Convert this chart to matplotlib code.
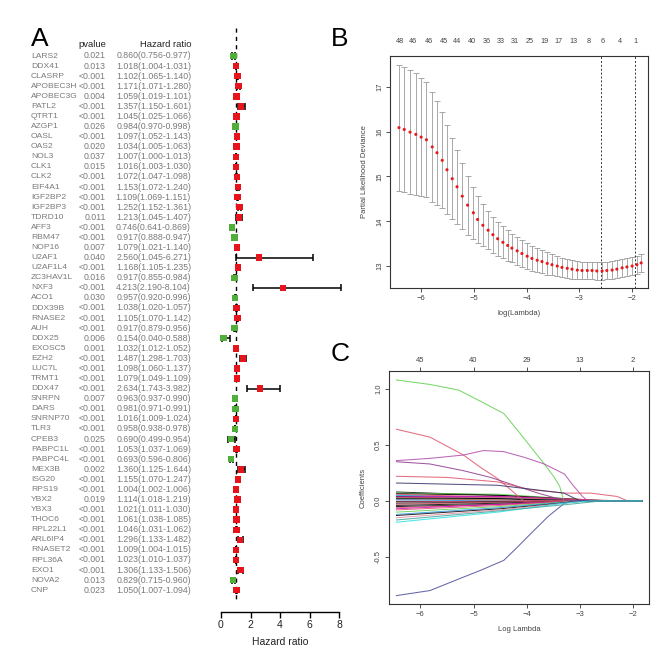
import numpy as np
import matplotlib
matplotlib.use("Agg")
import matplotlib.pyplot as plt
import matplotlib.transforms as mtransforms

plt.rcParams['font.family'] = ['Liberation Sans', 'DejaVu Sans']

# ---- panel A: univariate cox forest plot ----
genes = ['LARS2', 'DDX41', 'CLASRP', 'APOBEC3H', 'APOBEC3G', 'PATL2', 'QTRT1', 'AZGP1',
         'OASL', 'OAS2', 'NOL3', 'CLK1', 'CLK2', 'EIF4A1', 'IGF2BP2', 'IGF2BP3', 'TDRD10',
         'AFF3', 'RBM47', 'NOP16', 'U2AF1', 'U2AF1L4', 'ZC3HAV1L', 'NXF3', 'ACO1', 'DDX39B',
         'RNASE2', 'AUH', 'DDX25', 'EXOSC5', 'EZH2', 'LUC7L', 'TRMT1', 'DDX47', 'SNRPN',
         'DARS', 'SNRNP70', 'TLR3', 'CPEB3', 'PABPC1L', 'PABPC4L', 'MEX3B', 'ISG20', 'RPS19',
         'YBX2', 'YBX3', 'THOC6', 'RPL22L1', 'ARL6IP4', 'RNASET2', 'RPL36A', 'EXO1', 'NOVA2',
         'CNP']
pvals = ['0.021', '0.013', '<0.001', '<0.001', '0.004', '<0.001', '<0.001', '0.026',
         '<0.001', '0.020', '0.037', '0.015', '<0.001', '<0.001', '<0.001', '<0.001', '0.011',
         '<0.001', '<0.001', '0.007', '0.040', '<0.001', '0.016', '<0.001', '0.030', '<0.001',
         '<0.001', '<0.001', '0.006', '0.001', '<0.001', '<0.001', '<0.001', '<0.001', '0.007',
         '<0.001', '<0.001', '<0.001', '0.025', '<0.001', '<0.001', '0.002', '<0.001', '<0.001',
         '0.019', '<0.001', '<0.001', '<0.001', '<0.001', '<0.001', '<0.001', '<0.001', '0.013',
         '0.023']
hr = [0.860, 1.018, 1.102, 1.171, 1.059, 1.357, 1.045, 0.984, 1.097, 1.034, 1.007, 1.016,
      1.072, 1.153, 1.109, 1.252, 1.213, 0.746, 0.917, 1.079, 2.560, 1.168, 0.917, 4.213,
      0.957, 1.038, 1.105, 0.917, 0.154, 1.032, 1.487, 1.098, 1.079, 2.634, 0.963, 0.981,
      1.016, 0.958, 0.690, 1.053, 0.693, 1.360, 1.155, 1.004, 1.114, 1.021, 1.061, 1.046,
      1.296, 1.009, 1.023, 1.306, 0.829, 1.050]
hr_low = [0.756, 1.004, 1.065, 1.071, 1.019, 1.150, 1.025, 0.970, 1.052, 1.005, 1.000, 1.003,
          1.047, 1.072, 1.069, 1.152, 1.045, 0.641, 0.888, 1.021, 1.045, 1.105, 0.855, 2.190,
          0.920, 1.020, 1.070, 0.879, 0.040, 1.012, 1.298, 1.060, 1.049, 1.743, 0.937, 0.971,
          1.009, 0.938, 0.499, 1.037, 0.596, 1.125, 1.070, 1.002, 1.018, 1.011, 1.038, 1.031,
          1.133, 1.004, 1.010, 1.133, 0.715, 1.007]
hr_high = [0.977, 1.031, 1.140, 1.280, 1.101, 1.601, 1.066, 0.998, 1.143, 1.063, 1.013, 1.030,
           1.098, 1.240, 1.151, 1.361, 1.407, 0.869, 0.947, 1.140, 6.271, 1.235, 0.984, 8.104,
           0.996, 1.057, 1.142, 0.956, 0.588, 1.052, 1.703, 1.137, 1.109, 3.982, 0.990, 0.991,
           1.024, 0.978, 0.954, 1.069, 0.806, 1.644, 1.247, 1.006, 1.219, 1.030, 1.085, 1.062,
           1.482, 1.015, 1.037, 1.506, 0.960, 1.094]

# ---- panel B: cross-validation curve ----
cv_lambda = [-6.42, -6.32, -6.21, -6.10, -6.00, -5.90, -5.79, -5.70, -5.60, -5.51, -5.41, -5.32,
             -5.22, -5.12, -5.01, -4.93, -4.83, -4.73, -4.64, -4.55, -4.45, -4.36, -4.28, -4.18,
             -4.09, -3.99, -3.90, -3.80, -3.71, -3.61, -3.52, -3.42, -3.33, -3.23, -3.14, -3.04,
             -2.95, -2.85, -2.76, -2.67, -2.57, -2.48, -2.38, -2.29, -2.19, -2.10, -2.00, -1.91,
             -1.83]
cv_mean = [16.09, 16.05, 15.99, 15.94, 15.88, 15.82, 15.66, 15.53, 15.36, 15.15, 14.95, 14.77,
           14.56, 14.36, 14.19, 14.04, 13.91, 13.80, 13.70, 13.61, 13.53, 13.46, 13.40, 13.34,
           13.28, 13.22, 13.17, 13.13, 13.10, 13.06, 13.03, 13.00, 12.97, 12.95, 12.93, 12.91,
           12.90, 12.90, 12.90, 12.89, 12.89, 12.90, 12.91, 12.93, 12.96, 12.98, 13.00, 13.03,
           13.07]
cv_se = [1.41, 1.40, 1.38, 1.36, 1.32, 1.28, 1.22, 1.16, 1.07, 0.99, 0.90, 0.82,
         0.74, 0.66, 0.58, 0.52, 0.47, 0.43, 0.40, 0.38, 0.36, 0.34, 0.32, 0.31,
         0.30, 0.29, 0.28, 0.27, 0.26, 0.25, 0.24, 0.23, 0.22, 0.21, 0.21, 0.20,
         0.20, 0.20, 0.20, 0.20, 0.20, 0.20, 0.20, 0.20, 0.20, 0.20, 0.20, 0.20,
         0.20]
cv_top_pos = [-6.40, -6.15, -5.85, -5.57, -5.32, -5.03, -4.76, -4.50, -4.23, -3.95, -3.67,
              -3.40, -3.12, -2.82, -2.55, -2.24, -1.94]
cv_top_labels = ['48', '46', '46', '45', '44', '40', '36', '33', '31', '25', '19', '17', '13',
                 '8', '6', '4', '1']
lambda_min = -2.60
lambda_1se = -1.95

# ---- panel C: coefficient paths ----
r_black, r_red, r_green, r_blue = '#000000', '#DF536B', '#61D04F', '#2297E6'
r_cyan, r_magenta, r_navy = '#28E2E5', '#CD0BBC', '#4B4B9B'
path_end = -1.83
big_paths = [
    ([-6.45, -5.82, -5.28, -4.87, -4.43, -4.17, -3.92, -3.67, -3.48, -3.38, -3.30],
     [1.08, 1.04, 0.99, 0.89, 0.78, 0.63, 0.48, 0.33, 0.21, 0.13, 0.0], r_green),
    ([-6.45, -5.82, -5.19, -4.87, -4.55, -4.30, -4.11, -4.05],
     [0.64, 0.57, 0.41, 0.30, 0.20, 0.10, 0.02, 0.0], r_red),
    ([-6.45, -5.82, -5.19, -4.81, -4.43, -4.05, -3.67, -3.29, -3.13, -2.95, -2.85],
     [0.36, 0.38, 0.41, 0.45, 0.44, 0.39, 0.33, 0.24, 0.14, 0.04, 0.0], '#B04CA8'),
    ([-6.45, -5.82, -5.19, -4.68, -4.17, -3.79, -3.41, -3.20],
     [0.35, 0.33, 0.27, 0.21, 0.13, 0.07, 0.02, 0.0], '#8E3A8E'),
    ([-6.45, -5.50, -4.55, -3.92, -3.29, -2.80, -2.30, -2.10],
     [0.22, 0.21, 0.17, 0.10, 0.07, 0.07, 0.04, 0.0], r_red),
    ([-6.45, -4.55, -3.30, -3.00],
     [0.16, 0.14, 0.07, 0.0], '#333366'),
    ([-6.45, -5.82, -5.19, -4.87, -4.43, -4.17, -3.92, -3.60, -3.29, -3.15],
     [-0.845, -0.80, -0.68, -0.62, -0.53, -0.41, -0.29, -0.14, -0.02, 0.0], r_navy),
    ([-6.45, -4.55, -3.29, -2.80],
     [-0.19, -0.10, -0.02, 0.0], r_cyan),
    ([-6.45, -4.55, -3.20, -2.60],
     [-0.17, -0.09, -0.03, 0.0], '#3FA89A'),
]
# small paths: value at start, value at log lambda -4.5, where it reaches zero
small_start = [0.08, 0.07, 0.065, 0.06, 0.05, 0.05, 0.045, 0.04, 0.035, 0.03, 0.02, 0.02,
               0.01, 0.01, 0.0, -0.01, -0.02, -0.03, -0.04, -0.05, -0.06, -0.07, -0.08,
               -0.10, -0.12, -0.13, -0.15]
small_mid = [0.05, 0.06, 0.05, 0.03, 0.04, 0.02, 0.03, 0.04, 0.02, 0.03, 0.01, 0.02,
             0.01, 0.0, 0.0, 0.0, -0.01, -0.01, -0.02, -0.03, -0.03, -0.03, -0.04,
             -0.05, -0.06, -0.07, -0.08]
small_zero = [-3.0, -2.6, -2.4, -3.3, -2.2, -3.4, -2.9, -2.5, -3.5, -2.3, -3.8, -2.7,
              -3.6, -4.5, -4.0, -4.2, -3.6, -3.4, -3.2, -3.1, -3.3, -3.0, -3.1,
              -3.0, -3.0, -2.9, -2.9]
small_colors = [r_black, r_green, r_black, r_red, r_red, r_blue, r_cyan, r_magenta, r_black,
                r_red, r_green, r_black, r_red, r_blue, r_black, r_red, r_black, r_red,
                r_black, r_black, r_red, r_magenta, r_red, r_green, r_blue, r_black, '#E58AA0']
coef_top_pos = [-6, -5, -4, -3, -2]
coef_top_labels = ['45', '40', '29', '13', '2']

W, H = 659, 665
fig = plt.figure(figsize=(W / 100, H / 100), dpi=100)


def box(l, t, r, b):
    return [l / W, 1 - b / H, (r - l) / W, (b - t) / H]


# ================= A =================
row_top, row_gap = 56, 10.08
ax_f = fig.add_axes(box(221, 28, 339, 612))
ylo = (612 - row_top) / row_gap
yhi = (28 - row_top) / row_gap
ax_f.set_ylim(ylo, yhi)
ax_f.set_xlim(0, 8)
rows = np.arange(len(genes))
for s in ['top', 'right', 'left']:
    ax_f.spines[s].set_visible(False)
ax_f.spines['bottom'].set_bounds(0, 8)
ax_f.spines['bottom'].set_linewidth(1.0)
ax_f.set_yticks([])
ax_f.set_xticks([0, 2, 4, 6, 8])
ax_f.tick_params(axis='x', length=4, width=1.0, labelsize=7.5, pad=2, labelcolor='#222222')
ax_f.set_xlabel('Hazard ratio', fontsize=7.5, labelpad=5, color='#222222')

ax_f.plot([1, 1], [yhi, (600 - row_top) / row_gap], color='k', lw=1, ls=(0, (3, 3)),
          clip_on=False, zorder=1)
ax_f.hlines(rows, hr_low, hr_high, color='k', lw=1.1, zorder=2, clip_on=False)
ax_f.vlines(hr_low, rows - 0.35, rows + 0.35, color='k', lw=1.1, zorder=2, clip_on=False)
ax_f.vlines(hr_high, rows - 0.35, rows + 0.35, color='k', lw=1.1, zorder=2, clip_on=False)
box_cols = ['#E8141C' if v > 1 else '#4FAF3A' for v in hr]
ax_f.scatter(hr, rows, marker='s', s=22, c=box_cols, edgecolors='none', zorder=3,
             clip_on=False)

tr = mtransforms.blended_transform_factory(fig.transFigure, ax_f.transData)
txt_col = '#7a7a7a'
for i, g in enumerate(genes):
    fig.text(31 / W, i, g, transform=tr, ha='left', va='center', fontsize=6.1, color=txt_col)
    fig.text(106 / W, i, pvals[i], transform=tr, ha='right', va='center', fontsize=6.3,
             color=txt_col)
    fig.text(191 / W, i, '%.3f(%.3f-%.3f)' % (hr[i], hr_low[i], hr_high[i]), transform=tr,
             ha='right', va='center', fontsize=6.3, color=txt_col)
fig.text(106 / W, -1.1, 'pvalue', transform=tr, ha='right', va='center', fontsize=6.8,
         color='#222222')
fig.text(191 / W, -1.1, 'Hazard ratio', transform=tr, ha='right', va='center', fontsize=6.8,
         color='#222222')

fig.text(31 / W, 1 - 27 / H, 'A', fontsize=19, ha='left', va='top')
fig.text(331 / W, 1 - 27 / H, 'B', fontsize=19, ha='left', va='top')
fig.text(331 / W, 1 - 342 / H, 'C', fontsize=19, ha='left', va='top')

small = 5.5
gray_txt = '#444444'


def r_axes(ax):
    for s in ax.spines.values():
        s.set_linewidth(0.8)
        s.set_color('#333333')
    ax.tick_params(length=3, width=0.6, labelsize=small, labelcolor=gray_txt, pad=2,
                   color='#333333')
    ax.tick_params(axis='y', labelrotation=90)
    for lab in ax.get_yticklabels():
        lab.set_va('center')


# ================= B =================
ax_b = fig.add_axes(box(390, 56, 648, 288))
ax_b.set_xlim(-6.59, -1.70)
ax_b.set_ylim(12.51, 17.69)
ax_b.errorbar(cv_lambda, cv_mean, yerr=cv_se, fmt='none', ecolor='#9a9a9a', elinewidth=0.6,
              capsize=2.2, capthick=0.6, zorder=1)
ax_b.scatter(cv_lambda, cv_mean, s=5, c='#E41A1C', edgecolors='none', zorder=3)
ax_b.axvline(lambda_min, color='#333333', lw=0.7, ls=(0, (2, 2)))
ax_b.axvline(lambda_1se, color='#333333', lw=0.7, ls=(0, (2, 2)))
ax_b.set_xticks([-6, -5, -4, -3, -2])
ax_b.set_yticks([13, 14, 15, 16, 17])
r_axes(ax_b)
ax_b.set_xlabel('log(Lambda)', fontsize=small, color=gray_txt, labelpad=6)
ax_b.set_ylabel('Partial Likelihood Deviance', fontsize=small, color=gray_txt, labelpad=6)
ax_bt = ax_b.twiny()
ax_bt.set_xlim(ax_b.get_xlim())
ax_bt.set_xticks(cv_top_pos)
ax_bt.set_xticklabels(cv_top_labels)
ax_bt.tick_params(axis='x', length=0, labelsize=small - 0.3, labelcolor=gray_txt, pad=8)
for s in ax_bt.spines.values():
    s.set_visible(False)

# ================= C =================
ax_c = fig.add_axes(box(389, 371, 649, 604))
ax_c.set_xlim(-6.59, -1.70)
ax_c.set_ylim(-0.92, 1.16)
for j in range(len(small_start)):
    ax_c.plot([-6.45, -4.5, small_zero[j], path_end], [small_start[j], small_mid[j], 0, 0],
              color=small_colors[j], lw=0.7, alpha=0.85)
for xs, ys, col in big_paths:
    ax_c.plot(list(xs) + [path_end], list(ys) + [0.0], color=col, lw=0.75, alpha=0.85)
ax_c.set_xticks([-6, -5, -4, -3, -2])
ax_c.set_yticks([-0.5, 0.0, 0.5, 1.0])
ax_c.set_yticklabels(['-0.5', '0.0', '0.5', '1.0'])
r_axes(ax_c)
ax_c.set_xlabel('Log Lambda', fontsize=small, color=gray_txt, labelpad=6)
ax_c.set_ylabel('Coefficients', fontsize=small, color=gray_txt, labelpad=6)
ax_ct = ax_c.twiny()
ax_ct.set_xlim(ax_c.get_xlim())
ax_ct.set_xticks(coef_top_pos)
ax_ct.set_xticklabels(coef_top_labels)
ax_ct.tick_params(axis='x', length=3, width=0.6, labelsize=small, labelcolor=gray_txt, pad=2,
                  color='#333333')
for s in ax_ct.spines.values():
    s.set_visible(False)

fig.savefig('out.png', dpi=100)
